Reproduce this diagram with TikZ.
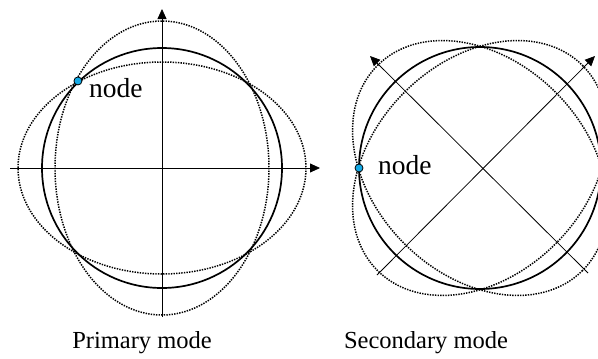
\documentclass[tikz,border=0pt]{standalone}
\usepackage{fontspec}
\setmainfont{Liberation Serif}
\usetikzlibrary{arrows.meta,calc}
\definecolor{nodecyan}{RGB}{20,170,230}
\begin{document}
\begin{tikzpicture}[x=1pt,y=-1pt,
  axis/.style={line width=0.8pt,-{Triangle[length=10pt,width=9pt]}},
  modecircle/.style={line width=1.7pt},
  modeellipse/.style={line width=1.5pt,dash pattern=on 1.4pt off 1.2pt},
  nodedot/.style={circle,draw=black,fill=nodecyan,line width=0.8pt,minimum size=8pt,inner sep=0pt},
  nodelabel/.style={font=\fontsize{27.5}{30}\selectfont,inner sep=0pt,anchor=base west},
  caption/.style={font=\fontsize{24.5}{28}\selectfont,inner sep=0pt,anchor=base}]
\useasboundingbox (0,0) rectangle (598,359);
% ---------- Primary mode ----------
\coordinate (cA) at (162,168);
\coordinate (aL) at (10,168);
\coordinate (aR) at (320,168);
\coordinate (aB) at (162,317);
\coordinate (aT) at (162,9);
\draw[axis] (aL) -- (aR);
\draw[axis] (aB) -- (aT);
\draw[modecircle] (cA) circle[radius=120];
\draw[modeellipse] (cA) ellipse[x radius=107,y radius=147];
\draw[modeellipse] (cA) ellipse[x radius=144,y radius=106];
\node[nodedot] (dA) at ($(cA)+(-134:121)$) {};
\node[nodelabel] (lA) at (89,97) {node};
\node[caption] (capA) at (142,348) {Primary mode};
% ---------- Secondary mode ----------
\coordinate (cB) at (480,168);
\coordinate (bLL) at (377,275);
\coordinate (bUR) at (595,56);
\coordinate (bLR) at (588,273);
\coordinate (bUL) at (370,56);
\draw[axis] (bLL) -- (bUR);
\draw[axis] (bLR) -- (bUL);
\draw[modecircle] (cB) circle[radius=121];
\draw[modeellipse,rotate around={45:(cB)}] (cB) ellipse[x radius=145,y radius=107];
\draw[modeellipse,rotate around={-45:(cB)}] (cB) ellipse[x radius=145,y radius=107];
\node[nodedot] (dB) at ($(cB)+(180:121)$) {};
\node[nodelabel] (lB) at (378,174) {node};
\node[caption] (capB) at (426,348) {Secondary mode};
\end{tikzpicture}
\end{document}
